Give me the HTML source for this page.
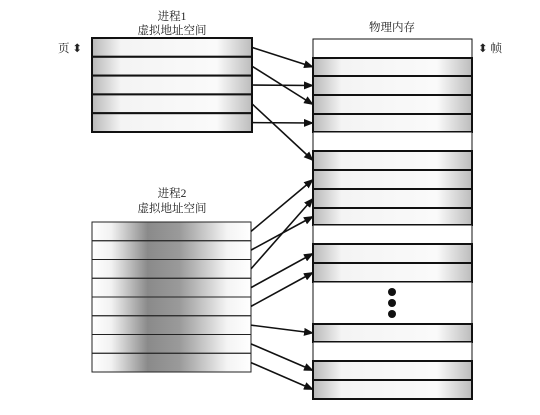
<!DOCTYPE html>
<html><head><meta charset="utf-8"><style>
body{margin:0;background:#fff}
svg{display:block;font-family:"Liberation Serif","Noto Serif CJK SC",serif}
</style></head><body>
<svg id="c" width="540" height="415" viewBox="0 0 540 415">
<defs>
<linearGradient id="edge" x1="0" x2="1"><stop offset="0" stop-color="#b8b8b8"/><stop offset="0.18" stop-color="#f4f4f4"/><stop offset="0.78" stop-color="#fafafa"/><stop offset="1" stop-color="#bcbcbc"/></linearGradient>
<linearGradient id="mid" x1="0" x2="1"><stop offset="0" stop-color="#fff"/><stop offset="0.12" stop-color="#f2f2f2"/><stop offset="0.35" stop-color="#8a8a8a"/><stop offset="0.55" stop-color="#9a9a9a"/><stop offset="0.85" stop-color="#f4f4f4"/><stop offset="1" stop-color="#fff"/></linearGradient>
<marker id="ah" markerWidth="10" markerHeight="8" refX="9" refY="4" orient="auto" markerUnits="userSpaceOnUse"><path d="M0,0 L10,4 L0,8 z" fill="#111"/></marker>
</defs>
<g id="labels" font-size="11.5" fill="#222" text-anchor="middle">
<text x="172" y="20">进程1</text>
<text x="172" y="34">虚拟地址空间</text>
<text x="172" y="197">进程2</text>
<text x="172" y="212">虚拟地址空间</text>
<text x="392" y="31">物理内存</text>
<text x="70" y="52">页 ⬍</text>
<text x="490" y="52">⬍ 帧</text>
</g>
<g id="marks"></g>
</svg>
<script>
const memShaded=[0,1,1,1,1,0,1,1,1,1,0,1,1,0,1,0,1,1];
const memHeights=[19,18,19,19,18,19,19,19,19,17,19,19,19,42,18,19,19,19];
const p1Targets=[1,3,2,6,4];
const p2Targets=[7,9,8,11,12,14,16,17];
const NS="http://www.w3.org/2000/svg";
const g=document.getElementById('marks');
function mk(t,a){const e=document.createElementNS(NS,t);for(const k in a)e.setAttribute(k,a[k]);g.appendChild(e);return e;}
const MX=313,MW=159,MY=39;
const memTops=[];let y=MY;
memHeights.forEach((h,i)=>{memTops.push(y);
 const r=mk('rect',{x:MX,y:y,width:MW,height:h,fill:memShaded[i]?'url(#edge)':'#fff',stroke:'#111','stroke-width':memShaded[i]?2:1});
 
 
 y+=h;});
const memCenter=i=>memTops[i]+memHeights[i]/2;
[292,303,314].forEach(cy=>{const d=mk('circle',{cx:392,cy:cy,r:4,fill:'#111'});
 
 });
const P1X=92,P1W=160,P1Y=38,P1H=18.8;
p1Targets.forEach((t,i)=>{const r=mk('rect',{x:P1X,y:P1Y+i*P1H,width:P1W,height:P1H,fill:'url(#edge)',stroke:'#111','stroke-width':2});
 
 });
p1Targets.forEach((t,i)=>{const l=mk('line',{x1:P1X+P1W,y1:P1Y+(i+0.5)*P1H,x2:MX,y2:memCenter(t),stroke:'#111','stroke-width':1.6,'marker-end':'url(#ah)'});
 
 });
const P2X=92,P2W=159,P2Y=222,P2H=18.75;
const bg=mk('rect',{x:P2X,y:P2Y,width:P2W,height:P2H*8,fill:'url(#mid)'});


p2Targets.forEach((t,i)=>{const r=mk('rect',{x:P2X,y:P2Y+i*P2H,width:P2W,height:P2H,fill:'none',stroke:'#222','stroke-width':1});
 
 });
p2Targets.forEach((t,i)=>{const l=mk('line',{x1:P2X+P2W,y1:P2Y+(i+0.5)*P2H,x2:MX,y2:memCenter(t),stroke:'#111','stroke-width':1.6,'marker-end':'url(#ah)'});
 
 });
</script>
</body></html>
